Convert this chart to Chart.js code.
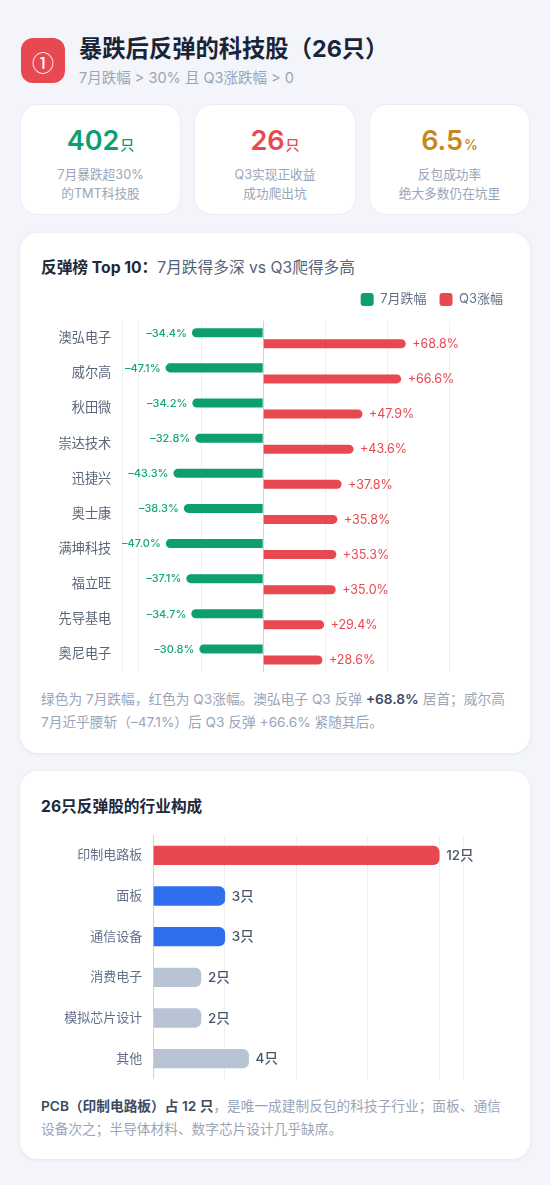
<!DOCTYPE html>
<html lang="zh-CN">
<head>
<meta charset="UTF-8">
<title>暴跌后反弹的科技股</title>
<script src="https://cdn.jsdelivr.net/npm/chart.js@4/dist/chart.umd.min.js"></script>
<style>
*{box-sizing:border-box;margin:0;padding:0}
html,body{width:550px;height:1185px;overflow:hidden}
body{position:relative;background:#f3f5fa;font-family:Inter,"Noto Sans CJK SC",sans-serif;color:#1e293b}
.abs{position:absolute}
.icon{left:21px;top:38px;width:44px;height:45px;border-radius:12px;background:#e8484f;color:#fff;font-family:"Noto Sans CJK SC",sans-serif;font-size:22px;display:flex;align-items:center;justify-content:center}
.h1{left:79px;top:34px;font-size:23.3px;line-height:30px;font-weight:700;color:#1a2437;white-space:nowrap}
.sub{left:79px;top:67px;font-size:14.5px;line-height:21px;color:#9aa5b8;white-space:nowrap}
.stat{top:104px;height:111px;background:#fff;border:1px solid #e9edf5;border-radius:18px;text-align:center}
.stat b{display:block;margin-top:18px;font-size:27px;line-height:36px;font-weight:600}
.stat b small{font-size:14px;font-weight:500;margin-left:1px}
.stat p{margin-top:3px;font-size:12.7px;line-height:18.5px;color:#9aa5b8}
.card{left:20px;width:510px;background:#fff;border-radius:18px;box-shadow:0 1px 4px rgba(30,50,90,.08)}
.title{left:41px;font-size:15.7px;line-height:22px;font-weight:700;color:#1e293b;white-space:nowrap}
.title span{font-weight:400;color:#55627a}
.note{left:41px;font-size:13.7px;line-height:22.5px;color:#9aa5b8;white-space:nowrap}
.note b{font-weight:600;color:#3d4a60}
.wrap{left:41px;width:468px}
canvas{display:block}
</style>
</head>
<body>
<div class="abs icon">①</div>
<div class="abs h1">暴跌后反弹的科技股（26只）</div>
<div class="abs sub">7月跌幅 &gt; 30% 且 Q3涨跌幅 &gt; 0</div>

<div class="abs stat" style="left:20px;width:161px"><b style="color:#0d9f6e">402<small>只</small></b><p>7月暴跌超30%<br>的TMT科技股</p></div>
<div class="abs stat" style="left:194px;width:162px"><b style="color:#e8484f">26<small>只</small></b><p>Q3实现正收益<br>成功爬出坑</p></div>
<div class="abs stat" style="left:369px;width:161px"><b style="color:#c9861a">6.5<small>%</small></b><p>反包成功率<br>绝大多数仍在坑里</p></div>

<div class="abs card" style="top:233px;height:520px"></div>
<div class="abs title" style="top:257px">反弹榜 Top 10：<span>7月跌得多深 vs Q3爬得多高</span></div>
<div class="abs wrap" style="top:280px;height:392px"><canvas id="chart-top10"></canvas></div>
<div class="abs note" style="top:688px">绿色为 7月跌幅，红色为 Q3涨幅。澳弘电子 Q3 反弹 <b>+68.8%</b> 居首；威尔高<br>7月近乎腰斩（–47.1%）后 Q3 反弹 +66.6% 紧随其后。</div>

<div class="abs card" style="top:771px;height:388px"></div>
<div class="abs title" style="top:796px">26只反弹股的行业构成</div>
<div class="abs wrap" style="top:835px;height:244px"><canvas id="chart-sector"></canvas></div>
<div class="abs note" style="top:1095px"><b>PCB（印制电路板）占 12 只</b>，是唯一成建制反包的科技子行业；面板、通信<br>设备次之；半导体材料、数字芯片设计几乎缺席。</div>

<script>
// data
const stockNames=['澳弘电子','威尔高','秋田微','崇达技术','迅捷兴','奥士康','满坤科技','福立旺','先导基电','奥尼电子'];
const julyDrop=[-34.4,-47.1,-34.2,-32.8,-43.3,-38.3,-47.0,-37.1,-34.7,-30.8];
const q3Gain=[68.8,66.6,47.9,43.6,37.8,35.8,35.3,35.0,29.4,28.6];
const top10Ticks=[-68,-60,-30,0,30,60,90];

const sectorNames=['印制电路板','面板','通信设备','消费电子','模拟芯片设计','其他'];
const sectorCounts=[12,3,3,2,2,4];
const sectorTicks=[0,3,6,9,12,13];
const sectorColors=['#e8484f','#2f6fed','#2f6fed','#b8c4d4','#b8c4d4','#b8c4d4'];

const FONT='Inter,"Noto Sans CJK SC",sans-serif';
const GREEN='#0d9f6e',RED='#e8484f',GRID='#edf0f6',ZERO='#cbd5e1';
Chart.defaults.font.family=FONT;
Chart.defaults.animation=false;

// text at the end of each bar
const barLabels={
  id:'barLabels',
  afterDatasetsDraw(chart,args,opts){
    const ctx=chart.ctx;
    chart.data.datasets.forEach((ds,i)=>{
      const st=opts.styles[i];
      chart.getDatasetMeta(i).data.forEach((bar,k)=>{
        const v=ds.data[k];
        ctx.save();
        ctx.font=st.font;
        ctx.fillStyle=st.color;
        ctx.textBaseline='middle';
        ctx.textAlign=v<0?'right':'left';
        ctx.fillText(opts.format(v),bar.x+(v<0?-st.gap:st.gap),bar.y+0.5);
        ctx.restore();
      });
    });
  }
};

// legend keeps its own height and lines up with the card, not the plot
const legendPlace={
  id:'legendPlace',
  beforeInit(chart){
    const fit=chart.legend.fit;
    chart.legend.fit=function(){fit.call(this);this.height=40.7;};
  },
  afterLayout(chart){chart.legend.right=chart.width+7;}
};

// y axis: fixed width, and no extra room above and below the plot
const fixAxis=w=>a=>{a.width=w;a.paddingTop=0;a.paddingBottom=0;};

new Chart(document.getElementById('chart-top10'),{
  type:'bar',
  plugins:[barLabels,legendPlace],
  data:{labels:stockNames,datasets:[
    {label:'7月跌幅',data:julyDrop,backgroundColor:GREEN,borderRadius:4.5,categoryPercentage:.627,barPercentage:.82},
    {label:'Q3涨幅',data:q3Gain,backgroundColor:RED,borderRadius:4.5,categoryPercentage:.627,barPercentage:.82}
  ]},
  options:{
    indexAxis:'y',responsive:true,maintainAspectRatio:false,
    layout:{padding:{right:59.3}},
    scales:{
      x:{min:-68,max:90,afterBuildTicks(a){a.ticks=top10Ticks.map(v=>({value:v}));},
        ticks:{display:false},border:{display:false},
        grid:{drawTicks:false,color:c=>c.tick&&c.tick.value===0?ZERO:GRID}},
      y:{afterFit:fixAxis(81.3),grid:{display:false,drawTicks:false},border:{display:false},
        ticks:{padding:11,color:'#5b6779',font:{size:13.2}}}
    },
    plugins:{
      tooltip:{enabled:false},
      legend:{position:'top',align:'end',labels:{boxWidth:13,boxHeight:13,useBorderRadius:true,borderRadius:3,padding:13,color:'#64708a',font:{size:13}}},
      barLabels:{
        format:v=>(v<0?'–':'+')+Math.abs(v).toFixed(1)+'%',
        styles:[{font:'500 11px '+FONT,color:'#12a874',gap:5},{font:'400 12.5px '+FONT,color:RED,gap:6.5}]
      }
    }
  }
});

new Chart(document.getElementById('chart-sector'),{
  type:'bar',
  plugins:[barLabels],
  data:{labels:sectorNames,datasets:[
    {data:sectorCounts,backgroundColor:sectorColors,borderRadius:6,barThickness:18.6}
  ]},
  options:{
    indexAxis:'y',responsive:true,maintainAspectRatio:false,
    layout:{padding:{right:46}},
    scales:{
      x:{min:0,max:13,afterBuildTicks(a){a.ticks=sectorTicks.map(v=>({value:v}));},
        ticks:{display:false},border:{display:false},
        grid:{drawTicks:false,color:c=>c.tick&&c.tick.value===0?ZERO:GRID}},
      y:{afterFit:fixAxis(112.3),grid:{display:false,drawTicks:false},border:{display:false},
        ticks:{padding:11,color:'#64708a',font:{size:13}}}
    },
    plugins:{
      tooltip:{enabled:false},
      legend:{display:false},
      barLabels:{
        format:v=>v+'只',
        styles:[{font:'500 13.5px '+FONT,color:'#475569',gap:7}]
      }
    }
  }
});
</script>
</body>
</html>
